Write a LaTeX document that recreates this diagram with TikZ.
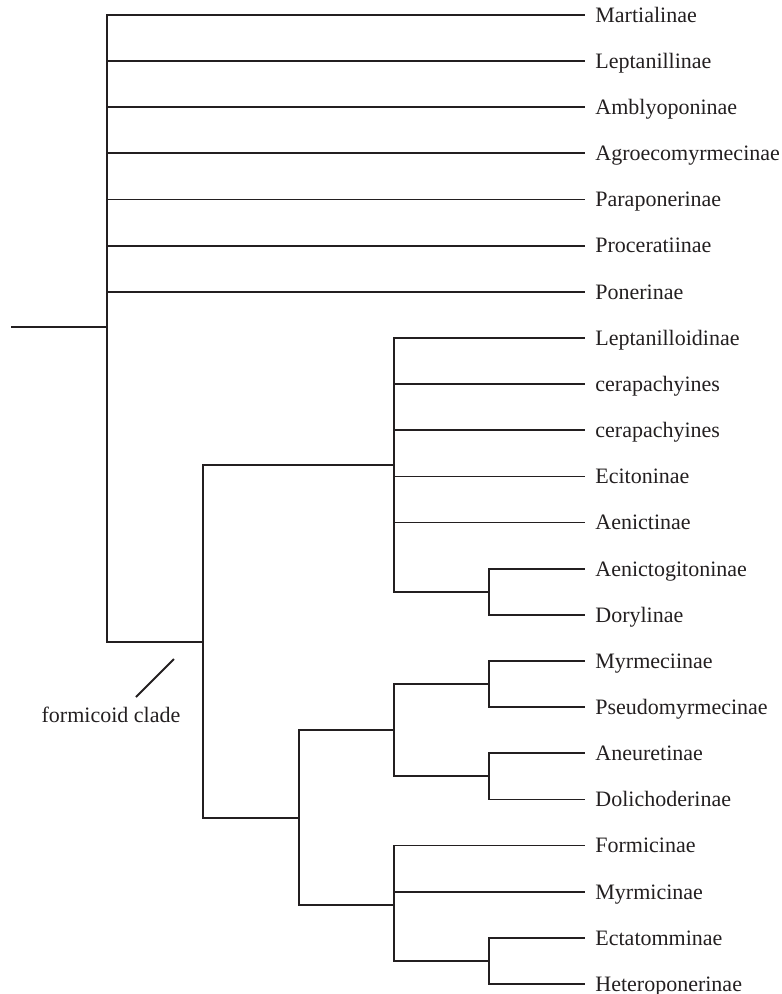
\documentclass[tikz,border=0pt]{standalone}
\usepackage{fontspec}
\setmainfont{Liberation Serif}
\definecolor{ink}{HTML}{231F20}
\tikzset{
  branch/.style={line width=0.9pt, draw=ink},
  leaf/.style={anchor=west, inner xsep=5pt, inner ysep=0pt, text height=7.3pt, text depth=0pt, text=ink, font=\fontsize{11}{13}\selectfont},
}

\begin{document}
\begin{tikzpicture}[x=0.5pt, y=-0.5pt]
  \useasboundingbox (0,0) rectangle (781,994);
  % taxa
  \node[leaf] (mart) at (585,15) {Martialinae};
  \node[leaf] (lepta) at (585,61.1) {Leptanillinae};
  \node[leaf] (ambly) at (585,107.3) {Amblyoponinae};
  \node[leaf] (agro) at (585,153.4) {Agroecomyrmecinae};
  \node[leaf] (parap) at (585,199.6) {Paraponerinae};
  \node[leaf] (procer) at (585,245.7) {Proceratiinae};
  \node[leaf] (poner) at (585,291.8) {Ponerinae};
  \node[leaf] (leptoid) at (585,338) {Leptanilloidinae};
  \node[leaf] (cera1) at (585,384.1) {cerapachyines};
  \node[leaf] (cera2) at (585,430.3) {cerapachyines};
  \node[leaf] (ecito) at (585,476.4) {Ecitoninae};
  \node[leaf] (aenic) at (585,522.5) {Aenictinae};
  \node[leaf] (aenicto) at (585,568.7) {Aenictogitoninae};
  \node[leaf] (doryl) at (585,614.8) {Dorylinae};
  \node[leaf] (myrme) at (585,661) {Myrmeciinae};
  \node[leaf] (pseudo) at (585,707.1) {Pseudomyrmecinae};
  \node[leaf] (aneur) at (585,753.2) {Aneuretinae};
  \node[leaf] (dolich) at (585,799.4) {Dolichoderinae};
  \node[leaf] (formic) at (585,845.5) {Formicinae};
  \node[leaf] (myrmic) at (585,891.7) {Myrmicinae};
  \node[leaf] (ectat) at (585,937.8) {Ectatomminae};
  \node[leaf] (hetero) at (585,984) {Heteroponerinae};
  % internal nodes
  \coordinate (base) at (11,327);
  \coordinate (root) at (107,327);
  \coordinate (formi) at (203,642);
  \coordinate (army) at (394,465);
  \coordinate (doryn) at (489,591.7);
  \coordinate (lower) at (299,818);
  \coordinate (myrcl) at (394,730.2);
  \coordinate (myrn) at (489,684);
  \coordinate (doln) at (489,776.3);
  \coordinate (formcl) at (394,905);
  \coordinate (ectn) at (489,960.9);
  % branches
  \draw[branch] (base) -- (root);
  \draw[branch] (root) |- (mart.west);
  \draw[branch] (root) |- (lepta.west);
  \draw[branch] (root) |- (ambly.west);
  \draw[branch] (root) |- (agro.west);
  \draw[branch] (root) |- (parap.west);
  \draw[branch] (root) |- (procer.west);
  \draw[branch] (root) |- (poner.west);
  \draw[branch] (root) |- (formi);
  \draw[branch] (formi) |- (army);
  \draw[branch] (formi) |- (lower);
  \draw[branch] (army) |- (leptoid.west);
  \draw[branch] (army) |- (cera1.west);
  \draw[branch] (army) |- (cera2.west);
  \draw[branch] (army) |- (ecito.west);
  \draw[branch] (army) |- (aenic.west);
  \draw[branch] (army) |- (doryn);
  \draw[branch] (doryn) |- (aenicto.west);
  \draw[branch] (doryn) |- (doryl.west);
  \draw[branch] (lower) |- (myrcl);
  \draw[branch] (lower) |- (formcl);
  \draw[branch] (myrcl) |- (myrn);
  \draw[branch] (myrcl) |- (doln);
  \draw[branch] (myrn) |- (myrme.west);
  \draw[branch] (myrn) |- (pseudo.west);
  \draw[branch] (doln) |- (aneur.west);
  \draw[branch] (doln) |- (dolich.west);
  \draw[branch] (formcl) |- (formic.west);
  \draw[branch] (formcl) |- (myrmic.west);
  \draw[branch] (formcl) |- (ectn);
  \draw[branch] (ectn) |- (ectat.west);
  \draw[branch] (ectn) |- (hetero.west);
  % clade label
  \node[leaf, anchor=base] (clade) at (111,722) {formicoid clade};
  \coordinate (tickA) at (136,697);
  \coordinate (tickB) at (174,659);
  \draw[branch] (tickA) -- (tickB);
\end{tikzpicture}
\end{document}
